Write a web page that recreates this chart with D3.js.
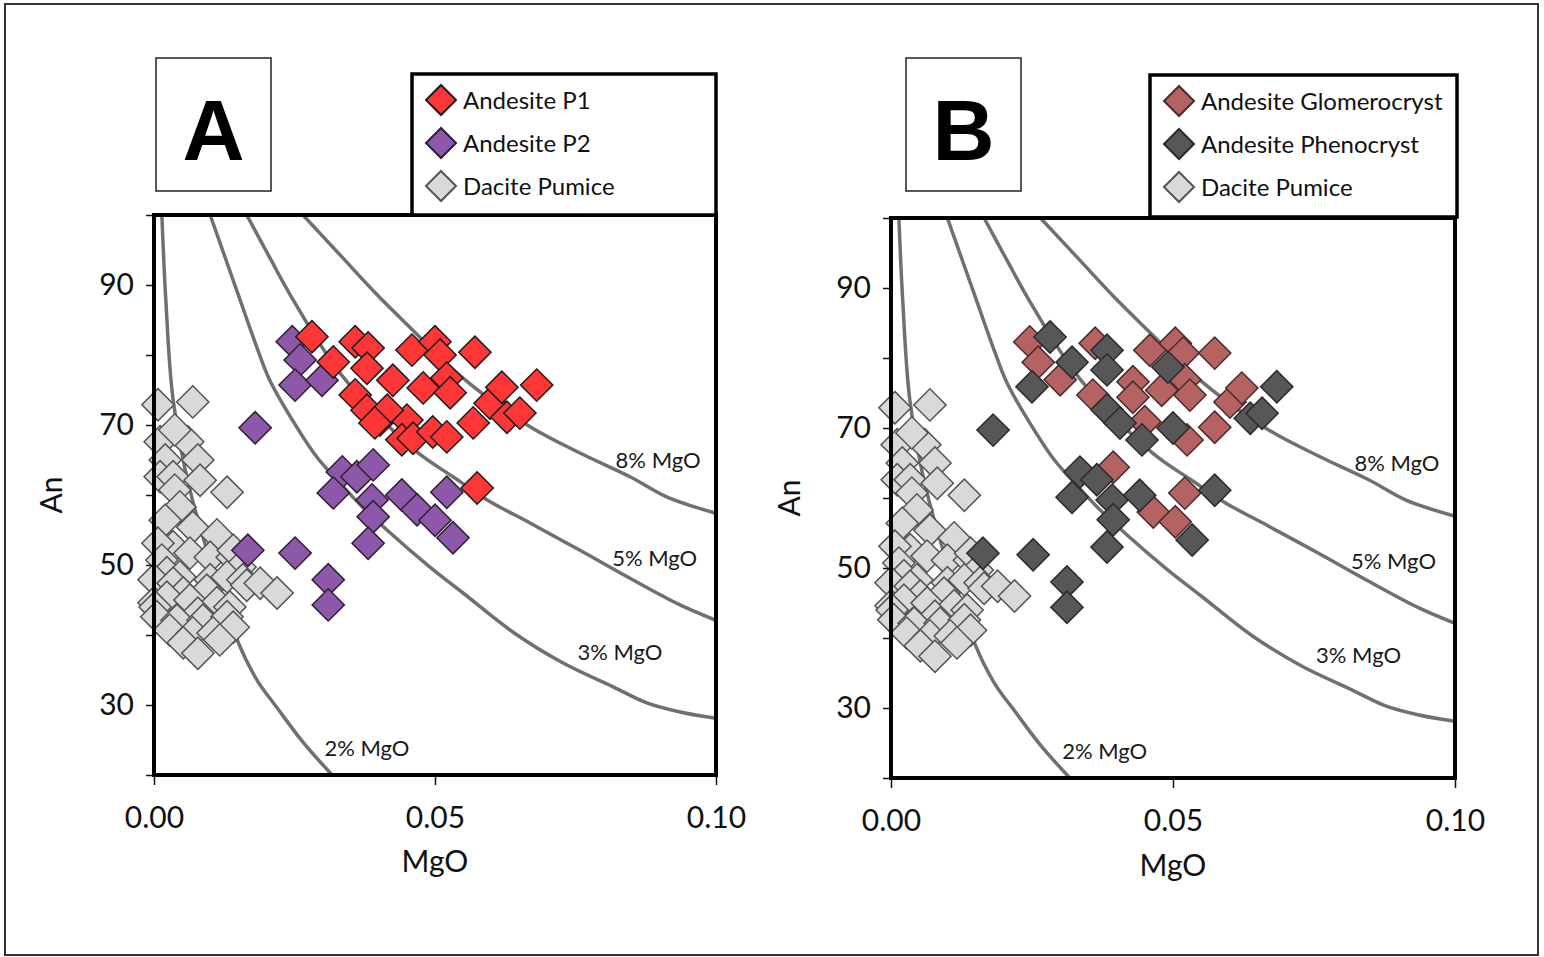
<!DOCTYPE html>
<html>
<head>
<meta charset="utf-8">
<script src="https://cdn.jsdelivr.net/npm/d3@7"></script>
<style>
  body { margin: 0; background: #fff; }
  svg { display: block; }
</style>
</head>
<body>
<svg id="chart" width="1544" height="957"></svg>
<script>
// ---- data: [MgO, An] ----
var andesiteP1 = [
  [0.0281,82.6],[0.0358,81.9],[0.0381,81.0],[0.0319,79.0],[0.0379,78.1],[0.0459,80.7],
  [0.0500,81.9],[0.0509,80.0],[0.0571,80.4],[0.0425,76.4],[0.0479,75.3],[0.0521,76.7],
  [0.0527,74.6],[0.0358,74.3],[0.0379,72.1],[0.0402,70.7],[0.0450,70.7],[0.0441,67.9],
  [0.0461,68.1],[0.0496,69.0],[0.0521,68.3],[0.0568,70.3],[0.0598,73.1],[0.0619,75.4],
  [0.0628,71.1],[0.0651,71.7],[0.0681,75.7],[0.0575,61.0],[0.0415,72.1],[0.0393,70.3]
];
var andesiteP2 = [
  [0.0246,81.9],[0.0260,79.3],[0.0251,75.7],[0.0299,76.4],[0.0180,69.6],[0.0335,63.3],
  [0.0361,62.6],[0.0390,64.3],[0.0319,60.3],[0.0388,59.3],[0.0441,60.0],[0.0390,56.9],
  [0.0468,57.9],[0.0500,56.4],[0.0532,53.9],[0.0381,53.1],[0.0521,60.4],[0.0167,52.1],
  [0.0251,51.7],[0.0310,47.9],[0.0310,44.3]
];
var dacitePumice = [
  [0.0007,72.9],[0.0069,73.3],[0.0011,67.6],[0.0060,67.6],[0.0037,69.3],[0.0078,65.0],
  [0.0020,65.0],[0.0011,62.6],[0.0034,62.6],[0.0082,62.1],[0.0037,60.7],[0.0130,60.4],
  [0.0046,58.3],[0.0020,56.4],[0.0069,55.4],[0.0112,54.3],[0.0034,52.6],[0.0007,53.1],
  [0.0064,51.7],[0.0100,51.1],[0.0139,51.1],[0.0141,52.1],[0.0153,49.7],[0.0014,50.7],
  [0.0023,48.9],[0.0046,48.3],[0.0100,47.9],[0.0130,48.3],[0.0158,47.9],[0.0165,47.1],
  [0.0189,47.4],[0.0219,46.0],[0.0000,47.9],[0.0034,47.4],[0.0052,46.0],[0.0094,46.4],
  [0.0000,44.6],[0.0023,45.4],[0.0064,45.0],[0.0112,44.6],[0.0135,44.0],[0.0002,44.0],
  [0.0078,43.1],[0.0005,42.6],[0.0041,42.1],[0.0087,42.1],[0.0130,42.6],[0.0028,40.7],
  [0.0069,40.3],[0.0105,40.3],[0.0141,41.1],[0.0052,38.9],[0.0078,37.4],[0.0117,39.3]
];
var glomerocryst = [
  [0.0246,82.3],[0.0261,79.4],[0.0300,76.9],[0.0362,82.1],[0.0459,81.1],[0.0504,82.1],
  [0.0518,80.7],[0.0574,80.7],[0.0429,76.6],[0.0480,75.4],[0.0521,76.9],[0.0530,74.7],
  [0.0358,74.7],[0.0429,74.4],[0.0450,70.9],[0.0525,68.3],[0.0574,70.1],[0.0601,73.7],
  [0.0622,75.7],[0.0394,64.4],[0.0521,60.7],[0.0465,58.0],[0.0504,56.6]
];
var phenocryst = [
  [0.0282,83.0],[0.0250,75.9],[0.0321,79.4],[0.0383,81.1],[0.0383,78.3],[0.0491,78.7],
  [0.0383,72.6],[0.0406,70.7],[0.0445,68.3],[0.0500,70.0],[0.0637,71.4],[0.0658,72.1],
  [0.0684,75.9],[0.0181,69.7],[0.0335,63.7],[0.0365,62.6],[0.0321,60.1],[0.0392,59.7],
  [0.0441,60.4],[0.0394,56.9],[0.0383,53.0],[0.0534,54.0],[0.0574,61.1],[0.0163,52.1],
  [0.0252,51.9],[0.0312,48.0],[0.0312,44.4]
];

// constant melt-MgO curves
var curve2pct = [[0.0014,100],[0.0021,87.9],[0.0034,73.6],[0.0064,60.7],[0.0148,39.3],
  [0.0183,33.6],[0.0219,29.6],[0.0265,24.7],[0.0317,20]];
var curve3pct = [[0.0100,100],[0.0153,87.9],[0.0183,81.1],[0.0206,76.4],[0.0254,69.7],
  [0.0290,65.4],[0.0331,61.7],[0.0367,58.6],[0.0420,54.6],[0.0491,49.7],[0.0550,46.0],
  [0.0639,40.4],[0.0728,36.0],[0.0817,32.6],[0.0877,30.3],[0.0936,29.0],[0.1000,28.1]];
var curve5pct = [[0.0165,100],[0.0206,93.9],[0.0246,88.1],[0.0336,76.9],[0.0464,66.4],
  [0.0532,62.6],[0.0593,59.3],[0.0669,56.0],[0.0758,52.1],[0.0847,48.1],[0.0936,44.3],
  [0.1000,42.1]];
var curve8pct = [[0.0265,100],[0.0331,94.3],[0.0397,88.6],[0.0456,83.9],[0.0544,77.1],
  [0.0664,70.0],[0.0758,66.0],[0.0847,62.6],[0.0913,59.7],[0.1000,57.4]];
var curveLabels = ['8% MgO','5% MgO','3% MgO','2% MgO'];
var curveLabelAt = [[0.0897,65.1],[0.0891,51.1],[0.0829,37.6],[0.0379,23.9]];

var anTicks = [20,30,40,50,60,70,80,90,100];
var anTickLabels = [30,50,70,90];
var mgoTicks = [0, 0.05, 0.10];

var FONT = 'Lato, "Open Sans", sans-serif';
var svg = d3.select('#chart');

// outer figure frame
svg.append('rect').attr('x',5).attr('y',4).attr('width',1533).attr('height',951)
  .attr('fill','none').attr('stroke','#333').attr('stroke-width',2);

var styles = {
  'Andesite P1':          {fill:'#ff3636', stroke:'#1e1e1e'},
  'Andesite P2':          {fill:'#8e58aa', stroke:'#2e2035'},
  'Dacite Pumice':        {fill:'#d9d9d9', stroke:'#555'},
  'Andesite Glomerocryst':{fill:'#b46262', stroke:'#4a2c2c'},
  'Andesite Phenocryst':  {fill:'#575757', stroke:'#2b2b2b'}
};

var panels = [
  {letter:'A', left:154, right:716, top:215, bottom:775,
   legend:{x:412, y:74, w:304, h:141}, box:{x:156, y:58, w:115, h:133},
   yTitleX:50, xTitleY:860,
   layers:[['Dacite Pumice',dacitePumice],['Andesite P2',andesiteP2],['Andesite P1',andesiteP1]],
   keys:['Andesite P1','Andesite P2','Dacite Pumice']},
  {letter:'B', left:891, right:1455, top:218, bottom:778,
   legend:{x:1150, y:75, w:307, h:142}, box:{x:906, y:58, w:115, h:133},
   yTitleX:788, xTitleY:864,
   layers:[['Dacite Pumice',dacitePumice],['Andesite Glomerocryst',glomerocryst],['Andesite Phenocryst',phenocryst]],
   keys:['Andesite Glomerocryst','Andesite Phenocryst','Dacite Pumice']}
];

var diamond = d3.symbol().type(d3.symbolSquare).size(520);

panels.forEach(function(p){
  var g = svg.append('g');
  var x = d3.scaleLinear().domain([0,0.1]).range([p.left,p.right]);
  var y = d3.scaleLinear().domain([20,100]).range([p.bottom,p.top]);

  // MgO curves
  var line = d3.line().x(function(d){return x(d[0]);}).y(function(d){return y(d[1]);})
    .curve(d3.curveCatmullRom);
  g.selectAll('path.mgo').data([curve2pct,curve3pct,curve5pct,curve8pct]).enter()
    .append('path').attr('class','mgo')
    .attr('d',line).attr('fill','none').attr('stroke','#707070').attr('stroke-width',3.5);

  g.selectAll('text.mgo').data(curveLabels).enter().append('text')
    .attr('x',function(d,i){return x(curveLabelAt[i][0]);})
    .attr('y',function(d,i){return y(curveLabelAt[i][1]);})
    .attr('text-anchor','middle').attr('dominant-baseline','central')
    .attr('font-family',FONT).attr('font-size',22).attr('fill','#1a1a1a')
    .text(function(d){return d;});

  // sample points
  p.layers.forEach(function(layer){
    var st = styles[layer[0]];
    g.append('g').selectAll('path').data(layer[1]).enter().append('path')
      .attr('d',diamond)
      .attr('transform',function(d){return 'translate('+x(d[0])+','+y(d[1])+') rotate(45)';})
      .attr('fill',st.fill).attr('stroke',st.stroke).attr('stroke-width',1.5);
  });

  // axes
  var yAxis = d3.axisLeft(y).tickValues(anTicks).tickSize(8).tickPadding(12)
    .tickFormat(function(d){return anTickLabels.indexOf(d) >= 0 ? d : '';});
  g.append('g').attr('transform','translate('+p.left+',0)').call(yAxis)
    .call(function(a){a.select('.domain').remove();})
    .attr('font-family',FONT).attr('font-size',30)
    .call(function(a){a.selectAll('line').attr('stroke','#111').attr('stroke-width',1.5);})
    .call(function(a){a.selectAll('text').attr('fill','#111');});

  var xAxis = d3.axisBottom(x).tickValues(mgoTicks).tickSize(10).tickPadding(22)
    .tickFormat(d3.format('.2f'));
  g.append('g').attr('transform','translate(0,'+p.bottom+')').call(xAxis)
    .call(function(a){a.select('.domain').remove();})
    .attr('font-family',FONT).attr('font-size',30)
    .call(function(a){a.selectAll('line').attr('stroke','#111').attr('stroke-width',1.5);})
    .call(function(a){a.selectAll('text').attr('fill','#111');});

  // plot frame
  g.append('rect').attr('x',p.left).attr('y',p.top)
    .attr('width',p.right-p.left).attr('height',p.bottom-p.top)
    .attr('fill','none').attr('stroke','#000').attr('stroke-width',4);

  // axis titles
  g.append('text').attr('transform','translate('+p.yTitleX+','+((p.top+p.bottom)/2)+') rotate(-90)')
    .attr('text-anchor','middle').attr('dominant-baseline','central')
    .attr('font-family',FONT).attr('font-size',30).attr('fill','#111').text('An');
  g.append('text').attr('x',(p.left+p.right)/2).attr('y',p.xTitleY)
    .attr('text-anchor','middle').attr('dominant-baseline','central')
    .attr('font-family',FONT).attr('font-size',30).attr('fill','#111').text('MgO');

  // legend
  var lg = g.append('g').attr('transform','translate('+p.legend.x+','+p.legend.y+')');
  lg.append('rect').attr('width',p.legend.w).attr('height',p.legend.h)
    .attr('fill','#fff').attr('stroke','#000').attr('stroke-width',3.5);
  var items = lg.selectAll('g.key').data(p.keys).enter().append('g').attr('class','key')
    .attr('transform',function(d,i){return 'translate(29,'+(26+i*43)+')';});
  items.append('path').attr('d',d3.symbol().type(d3.symbolSquare).size(450))
    .attr('transform','rotate(45)')
    .attr('fill',function(d){return styles[d].fill;})
    .attr('stroke',function(d){return styles[d].stroke;}).attr('stroke-width',2);
  items.append('text').attr('x',22).attr('y',-1).attr('dominant-baseline','central')
    .attr('font-family',FONT).attr('font-size',24).attr('fill','#111')
    .text(function(d){return d;});

  // panel letter
  g.append('rect').attr('x',p.box.x).attr('y',p.box.y).attr('width',p.box.w).attr('height',p.box.h)
    .attr('fill','#fff').attr('stroke','#222').attr('stroke-width',1.5);
  g.append('text').attr('x',p.box.x+p.box.w/2).attr('y',p.box.y+102)
    .attr('text-anchor','middle').attr('font-family','"Liberation Sans", Arial, sans-serif')
    .attr('font-weight','bold').attr('font-size',86).attr('fill','#000').text(p.letter);
});
</script>
</body>
</html>
